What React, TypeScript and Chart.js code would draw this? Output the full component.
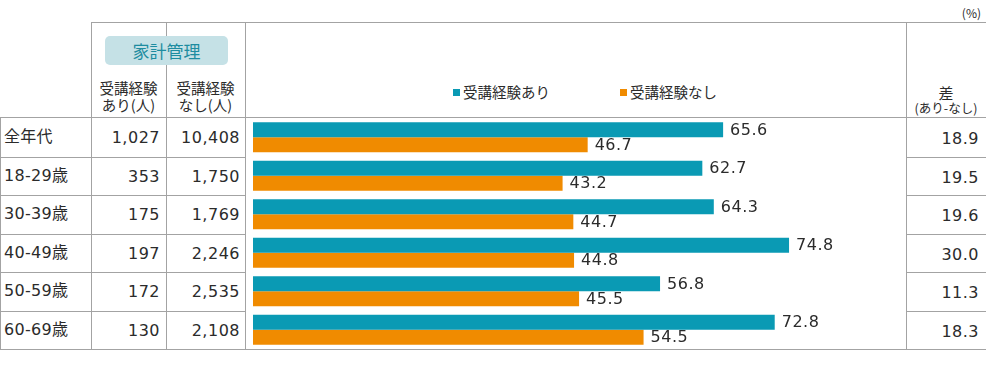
import React, { useEffect, useRef } from "react";
import { Chart, registerables } from "chart.js";

Chart.register(...registerables);

const categories = ["全年代", "18-29歳", "30-39歳", "40-49歳", "50-59歳", "60-69歳"];
const countWith = ["1,027", "353", "175", "197", "172", "130"];
const countWithout = ["10,408", "1,750", "1,769", "2,246", "2,535", "2,108"];
const withValues = [65.6, 62.7, 64.3, 74.8, 56.8, 72.8];
const withoutValues = [46.7, 43.2, 44.7, 44.8, 45.5, 54.5];
const diffValues = ["18.9", "19.5", "19.6", "30.0", "11.3", "18.3"];
const seriesNames = ["受講経験あり", "受講経験なし"];

const TEAL = "#0a9ab4";
const ORANGE = "#f08b00";
const LINE = "#a3a3a3";
const TEXT = "#2b2b2b";
const NUM_FONT = '"DejaVu Sans", "Noto Sans CJK JP", sans-serif';
const JP_FONT = '"Noto Sans CJK JP", sans-serif';

const TOP = 118;
const ROW_H = 38.5;
const BOTTOM = TOP + ROW_H * categories.length;

const labelPlugin = {
  id: "barLabels",
  afterDatasetsDraw(chart: any) {
    const ctx = chart.ctx;
    ctx.save();
    ctx.font = "16px " + NUM_FONT;
    ctx.fillStyle = TEXT;
    ctx.textAlign = "left";
    ctx.textBaseline = "middle";
    try {
      (ctx as any).letterSpacing = "0.5px";
    } catch (e) {}
    chart.data.datasets.forEach((ds: any, di: number) => {
      const meta = chart.getDatasetMeta(di);
      meta.data.forEach((bar: any, i: number) => {
        const v = ds.data[i] as number;
        ctx.fillText(v.toFixed(1), bar.x + 7, bar.y + 1);
      });
    });
    ctx.restore();
  },
};

function BarChart() {
  const ref = useRef<HTMLCanvasElement | null>(null);
  useEffect(() => {
    if (!ref.current) return;
    const chart = new Chart(ref.current, {
      type: "bar",
      data: {
        labels: categories,
        datasets: [
          {
            label: seriesNames[0],
            data: withValues,
            backgroundColor: TEAL,
            borderWidth: 0,
            categoryPercentage: 0.78,
            barPercentage: 1,
          },
          {
            label: seriesNames[1],
            data: withoutValues,
            backgroundColor: ORANGE,
            borderWidth: 0,
            categoryPercentage: 0.78,
            barPercentage: 1,
          },
        ],
      },
      options: {
        indexAxis: "y",
        responsive: false,
        animation: false,
        devicePixelRatio: 1,
        layout: { padding: { left: 8, right: 0, top: 0, bottom: 0 } },
        plugins: {
          legend: { display: false },
          tooltip: { enabled: false },
        },
        scales: {
          x: { display: false, min: 0, max: 91.12 },
          y: { display: false },
        },
      },
      plugins: [labelPlugin],
    } as any);
    return () => chart.destroy();
  }, []);
  return (
    <canvas
      ref={ref}
      width={661}
      height={BOTTOM - TOP}
      style={{ position: "absolute", left: 245, top: TOP, width: 661, height: BOTTOM - TOP }}
    />
  );
}

const hLine = (x1: number, x2: number, y: number, key: string) => (
  <div key={key} style={{ position: "absolute", left: x1, top: Math.round(y), width: x2 - x1, height: 1, background: LINE }} />
);
const vLine = (x: number, y1: number, y2: number, key: string) => (
  <div key={key} style={{ position: "absolute", left: x, top: y1, width: 1, height: Math.round(y2 - y1), background: LINE }} />
);

export default function App() {
  const lines: any[] = [];
  lines.push(hLine(91, 986, 22, "top"));
  lines.push(hLine(0, 986, TOP - 1, "head"));
  lines.push(hLine(0, 986, BOTTOM, "bottom"));
  for (let i = 1; i < categories.length; i++) {
    const y = TOP + i * ROW_H;
    lines.push(hLine(0, 245, y, "rl" + i));
    lines.push(hLine(906, 986, y, "rr" + i));
  }
  lines.push(vLine(0, TOP - 1, BOTTOM + 1, "v0"));
  [91, 166, 245, 906].forEach((x, i) => lines.push(vLine(x, 22, BOTTOM + 1, "v" + (i + 1))));

  const numStyle: any = {
    position: "absolute",
    fontFamily: NUM_FONT,
    fontSize: 16,
    letterSpacing: "0.5px",
    color: TEXT,
    lineHeight: "20px",
    whiteSpace: "nowrap",
  };

  return (
    <div style={{ position: "absolute", left: 0, top: 0, width: 989, height: 369, background: "#fff", overflow: "hidden", fontFamily: JP_FONT, color: TEXT }}>
      {lines}
      <div style={{ position: "absolute", right: 8, top: 4, fontSize: 12, fontFamily: JP_FONT, color: TEXT }}>(%)</div>
      <div
        style={{
          position: "absolute",
          left: 105,
          top: 36,
          width: 123,
          height: 29,
          background: "#c5e1e6",
          borderRadius: 5,
          color: "#1d8ca0",
          fontSize: 17,
          lineHeight: "29px",
          textAlign: "center",
        }}
      >
        家計管理
      </div>
      <div style={{ position: "absolute", left: 91, width: 75, top: 79, textAlign: "center", fontSize: 14.5, lineHeight: "17px" }}>
        受講経験
        <br />
        あり(人)
      </div>
      <div style={{ position: "absolute", left: 166, width: 79, top: 79, textAlign: "center", fontSize: 14.5, lineHeight: "17px" }}>
        受講経験
        <br />
        なし(人)
      </div>
      <div style={{ position: "absolute", left: 453, top: 89, width: 7, height: 7, background: TEAL }} />
      <div style={{ position: "absolute", left: 463, top: 82, fontSize: 14.5, lineHeight: "20px", whiteSpace: "nowrap" }}>{seriesNames[0]}</div>
      <div style={{ position: "absolute", left: 620, top: 89, width: 7, height: 7, background: ORANGE }} />
      <div style={{ position: "absolute", left: 630, top: 82, fontSize: 14.5, lineHeight: "20px", whiteSpace: "nowrap" }}>{seriesNames[1]}</div>
      <div style={{ position: "absolute", left: 906, width: 80, top: 83, textAlign: "center", fontSize: 15, lineHeight: "20px" }}>差</div>
      <div style={{ position: "absolute", left: 906, width: 80, top: 100, textAlign: "center", fontSize: 12.5, lineHeight: "16px", whiteSpace: "nowrap" }}>(あり-なし)</div>
      {categories.map((c, i) => {
        const cy = TOP + i * ROW_H + ROW_H / 2;
        return (
          <React.Fragment key={c}>
            <div style={{ ...numStyle, left: 4, top: cy - 10, letterSpacing: "0.3px" }}>{c}</div>
            <div style={{ ...numStyle, right: 989 - 160, top: cy - 9 }}>{countWith[i]}</div>
            <div style={{ ...numStyle, right: 989 - 240, top: cy - 9 }}>{countWithout[i]}</div>
            <div style={{ ...numStyle, right: 989 - 979, top: cy - 8 }}>{diffValues[i]}</div>
          </React.Fragment>
        );
      })}
      <BarChart />
    </div>
  );
}
